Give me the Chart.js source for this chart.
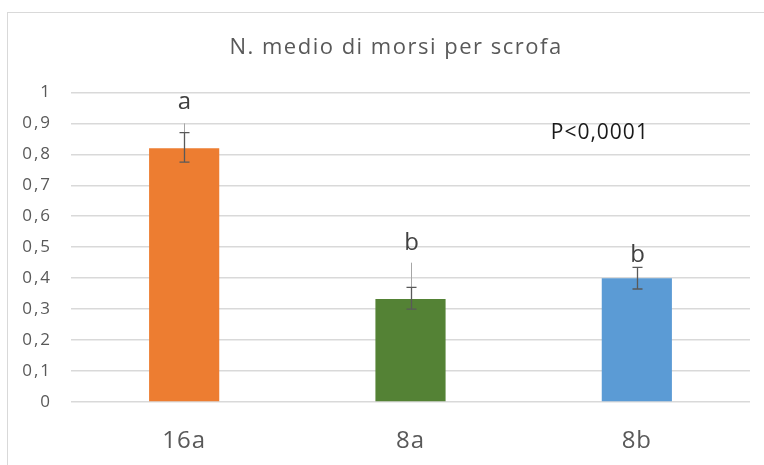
<!DOCTYPE html>
<html>
<head>
<meta charset="utf-8">
<script src="https://cdn.jsdelivr.net/npm/chart.js@4/dist/chart.umd.min.js"></script>
<style>
  html, body { margin: 0; padding: 0; background: #fff; overflow: hidden; }
  #wrap { position: relative; width: 764px; height: 465px; }
  #frame { position: absolute; left: 7px; top: 12px; width: 800px; height: 500px; border: 1px solid #d9d9d9; box-sizing: border-box; }
  canvas { position: absolute; left: 0; top: 0; }
</style>
</head>
<body>
<div id="wrap">
  <div id="frame"></div>
  <canvas id="c" width="764" height="465"></canvas>
</div>
<script>
const categories = ["16a", "8a", "8b"];
const means = [0.82, 0.333, 0.40];
const errLow = [0.775, 0.30, 0.365];
const errHigh = [0.87, 0.37, 0.435];
const whiskerTop = [0.90, 0.45, 0.435];
const letters = ["a", "b", "b"];
const letterAt = [0.97, 0.512, 0.474];
const annotation = "P<0,0001";
const annotationAt = 0.868;
const barColors = ["#ED7D31", "#548235", "#5B9BD5"];

const FONT = "'Open Sans', sans-serif";

function wrapDraw(obj, name, fn) {
  if (!obj || obj['_w_' + name]) return;
  const orig = obj[name].bind(obj);
  obj[name] = function (...a) { fn(orig, a); };
  obj['_w_' + name] = true;
}

const stylePlugin = {
  id: 'stylePlugin',
  afterLayout(chart) {
    const ctx = chart.ctx;
    wrapDraw(chart.titleBlock, 'draw', (orig, a) => {
      ctx.save(); ctx.translate(11, 0); ctx.letterSpacing = '1.5px'; orig(...a); ctx.restore();
    });
    wrapDraw(chart.scales.y, 'drawLabels', (orig, a) => {
      ctx.save(); ctx.letterSpacing = '2px'; orig(...a); ctx.restore();
    });
    wrapDraw(chart.scales.x, 'drawLabels', (orig, a) => {
      ctx.save(); ctx.letterSpacing = '1px'; orig(...a); ctx.restore();
    });
  }
};

const errorPlugin = {
  id: 'errbars',
  afterDatasetsDraw(chart) {
    const ctx = chart.ctx;
    const x = chart.scales.x, y = chart.scales.y;
    ctx.save();
    categories.forEach((c, i) => {
      const px = Math.round(x.getPixelForValue(i)) + 0.5;
      ctx.strokeStyle = '#a6a6a6';
      ctx.lineWidth = 1;
      ctx.beginPath();
      ctx.moveTo(px, y.getPixelForValue(errHigh[i]));
      ctx.lineTo(px, y.getPixelForValue(whiskerTop[i]));
      ctx.stroke();
      ctx.strokeStyle = '#595959';
      ctx.lineWidth = 1.3;
      const yl = y.getPixelForValue(errLow[i]);
      const yh = y.getPixelForValue(errHigh[i]);
      ctx.beginPath();
      ctx.moveTo(px, yl); ctx.lineTo(px, yh);
      ctx.moveTo(px - 5, yl); ctx.lineTo(px + 5, yl);
      ctx.moveTo(px - 5, yh); ctx.lineTo(px + 5, yh);
      ctx.stroke();
      ctx.fillStyle = '#404040';
      ctx.font = "24px " + FONT;
      ctx.textAlign = 'center';
      ctx.textBaseline = 'middle';
      ctx.fillText(letters[i], px, y.getPixelForValue(letterAt[i]));
    });
    ctx.fillStyle = '#1a1a1a';
    ctx.font = "21px " + FONT;
    ctx.letterSpacing = '1px';
    ctx.textAlign = 'center';
    ctx.textBaseline = 'middle';
    ctx.fillText(annotation, x.getPixelForValue(2) - 37, y.getPixelForValue(annotationAt));
    ctx.restore();
  }
};

new Chart(document.getElementById('c'), {
  type: 'bar',
  data: {
    labels: categories,
    datasets: [{
      data: means,
      backgroundColor: barColors,
      borderWidth: 0,
      categoryPercentage: 1,
      barPercentage: 0.31
    }]
  },
  options: {
    responsive: false,
    animation: false,
    devicePixelRatio: 1,
    layout: { padding: { left: 20, right: 14, top: 0, bottom: 0 } },
    plugins: {
      legend: { display: false },
      tooltip: { enabled: false },
      title: {
        display: true,
        text: 'N. medio di morsi per scrofa',
        color: '#595959',
        font: { family: FONT, size: 22, weight: 'normal', lineHeight: 1.2 },
        padding: { top: 35, bottom: 31 }
      }
    },
    scales: {
      x: {
        afterFit(s) { s.height = 63; },
        grid: { display: false, drawTicks: false },
        border: { display: false },
        ticks: { color: '#595959', font: { family: FONT, size: 24 }, padding: 25 }
      },
      y: {
        min: 0, max: 1,
        afterFit(s) { s.width = 51; },
        grid: { color: '#d9d9d9', drawTicks: false, lineWidth: 1.5 },
        border: { display: false },
        ticks: {
          stepSize: 0.1,
          color: '#595959',
          padding: 19,
          font: { family: FONT, size: 17 },
          callback: v => String(Number(v.toFixed(1))).replace('.', ',')
        }
      }
    }
  },
  plugins: [stylePlugin, errorPlugin]
});
</script>
</body>
</html>
